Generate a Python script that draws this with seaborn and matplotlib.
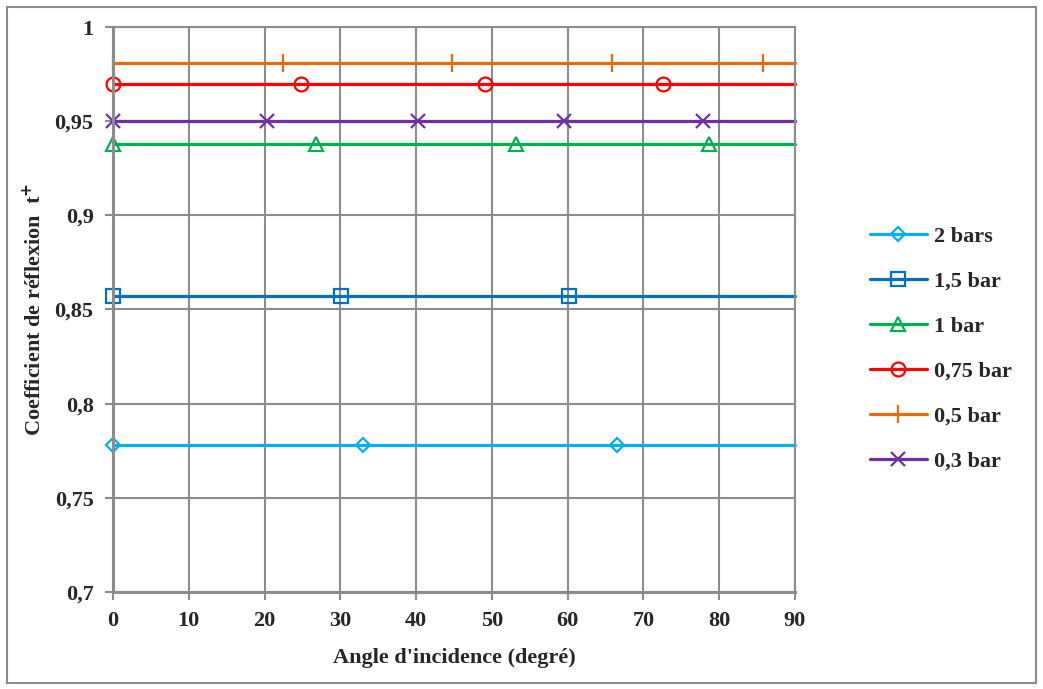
"""
Coefficient de réflexion t+ en fonction de l'angle d'incidence
"""

import matplotlib.pyplot as plt
from matplotlib.lines import Line2D
from matplotlib.patches import Rectangle
import seaborn as sns

# series (label, value of t+, angles where the markers sit)
labels = ["2 bars", "1,5 bar", "1 bar", "0,75 bar", "0,5 bar", "0,3 bar"]
t_plus = [0.778, 0.857, 0.938, 0.970, 0.981, 0.950]
marker_angles = [
    [0, 33.0, 66.5],
    [0, 30.1, 60.2],
    [0, 26.8, 53.2, 78.6],
    [0, 24.8, 49.1, 72.6],
    [0, 22.4, 44.7, 65.8, 85.8],
    [0, 20.3, 40.2, 59.5, 77.9],
]
angle_max = 90

colors = ["#00B0F0", "#0070C0", "#00B050", "#FF0000", "#E46C0A", "#7030A0"]
markers = ["D", "s", "^", "o", "|", "x"]
marker_sizes = [7.5, 10, 10, 10, 13, 10]

sns.set_style("white")
plt.rcParams["font.family"] = ["Liberation Serif", "DejaVu Serif"]
plt.rcParams["font.weight"] = "bold"

fig = plt.figure(figsize=(10.43, 6.89), dpi=100)
ax = fig.add_axes([0.1083, 0.1408, 0.6539, 0.82])

handles = []
for i, label in enumerate(labels):
    xs = marker_angles[i] + [angle_max]
    ys = [t_plus[i]] * len(xs)
    sns.lineplot(
        x=xs, y=ys, ax=ax, color=colors[i], linewidth=2.3,
        marker=markers[i], markersize=marker_sizes[i], fillstyle="none",
        markeredgewidth=1.6, markeredgecolor=colors[i],
        markevery=list(range(len(xs) - 1)), sort=False, clip_on=False,
    )
    handles.append(Line2D([], [], color=colors[i], linewidth=2.3, marker=markers[i],
                          markersize=marker_sizes[i], fillstyle="none",
                          markeredgewidth=1.6, label=label))

ax.set_xlim(0, 90)
ax.set_ylim(0.7, 1.0)
ax.set_xticks(range(0, 91, 10))
ax.set_yticks([0.7, 0.75, 0.8, 0.85, 0.9, 0.95, 1.0])
ax.set_yticklabels(["0,7", "0,75", "0,8", "0,85", "0,9", "0,95", "1"])
ax.grid(True, color="#8C8C8C", linewidth=1.5)
ax.set_axisbelow(True)
for side, spine in ax.spines.items():
    spine.set_color("#8C8C8C")
    spine.set_linewidth(1.5 if side in ("top", "right") else 2.2)
ax.tick_params(axis="both", which="both", length=6, width=1.5, color="#8C8C8C",
               labelsize=16, pad=8, direction="out", left=True, bottom=True)

ax.set_xlabel("Angle d'incidence (degré)", fontsize=16, fontweight="bold", labelpad=12)
ax.set_ylabel("Coefficient de réflexion  t$^{+}$", fontsize=16, fontweight="bold", labelpad=6)

ax.legend(handles=handles, loc="center left", bbox_to_anchor=(1.08, 0.43), frameon=False,
          fontsize=16, handlelength=2.6, labelspacing=1.1, handletextpad=0.3)

fig.patches.append(Rectangle((0.007, 0.009), 0.986, 0.981, transform=fig.transFigure,
                             fill=False, edgecolor="#8C8C8C", linewidth=1.5))

fig.savefig("out.png", dpi=100)
